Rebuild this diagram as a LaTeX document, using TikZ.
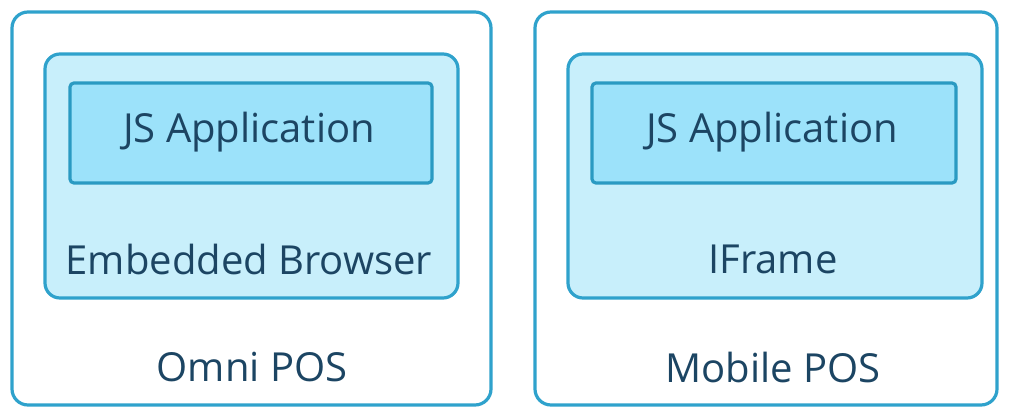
\documentclass[tikz,border=0pt]{standalone}
\usepackage{fontspec}
\setmainfont{Open Sans}
\begin{document}
\begin{tikzpicture}[x=1pt,y=-1pt,
  outerbox/.style={draw=bordc,line width=3.2pt,fill=white,rounded corners=16pt},
  midbox/.style={draw=bordc,line width=3.2pt,fill=midc,rounded corners=15pt},
  innerbox/.style={draw=innerbord,line width=3.2pt,fill=innerc,rounded corners=4pt},
  lbl/.style={text=txtc,font=\fontsize{40}{46}\selectfont,inner sep=0pt}]
\definecolor{bordc}{HTML}{2FA2CC}
\definecolor{midc}{HTML}{C8EFFB}
\definecolor{innerc}{HTML}{9CE2FA}
\definecolor{innerbord}{HTML}{2A9AC2}
\definecolor{txtc}{HTML}{1C4563}
\useasboundingbox (0,0) rectangle (1009,407);
% left
\draw[outerbox] (12,12) rectangle (491,405);
\draw[midbox] (45,54) rectangle (458,298);
\draw[innerbox] (70,83) rectangle (432,183);
\node[lbl] (jsl) at (249,132) {JS Application};
\node[lbl] (eb) at (249,259) {Embedded Browser};
\node[lbl] (omni) at (252,367) {Omni POS};
% right
\draw[outerbox] (535,12) rectangle (997,405);
\draw[midbox] (568,54) rectangle (982,298);
\draw[innerbox] (592,83) rectangle (956,183);
\node[lbl] (jsr) at (772,132) {JS Application};
\node[lbl] (ifr) at (773,259) {IFrame};
\node[lbl] (mob) at (773,367) {Mobile POS};
\end{tikzpicture}
\end{document}
